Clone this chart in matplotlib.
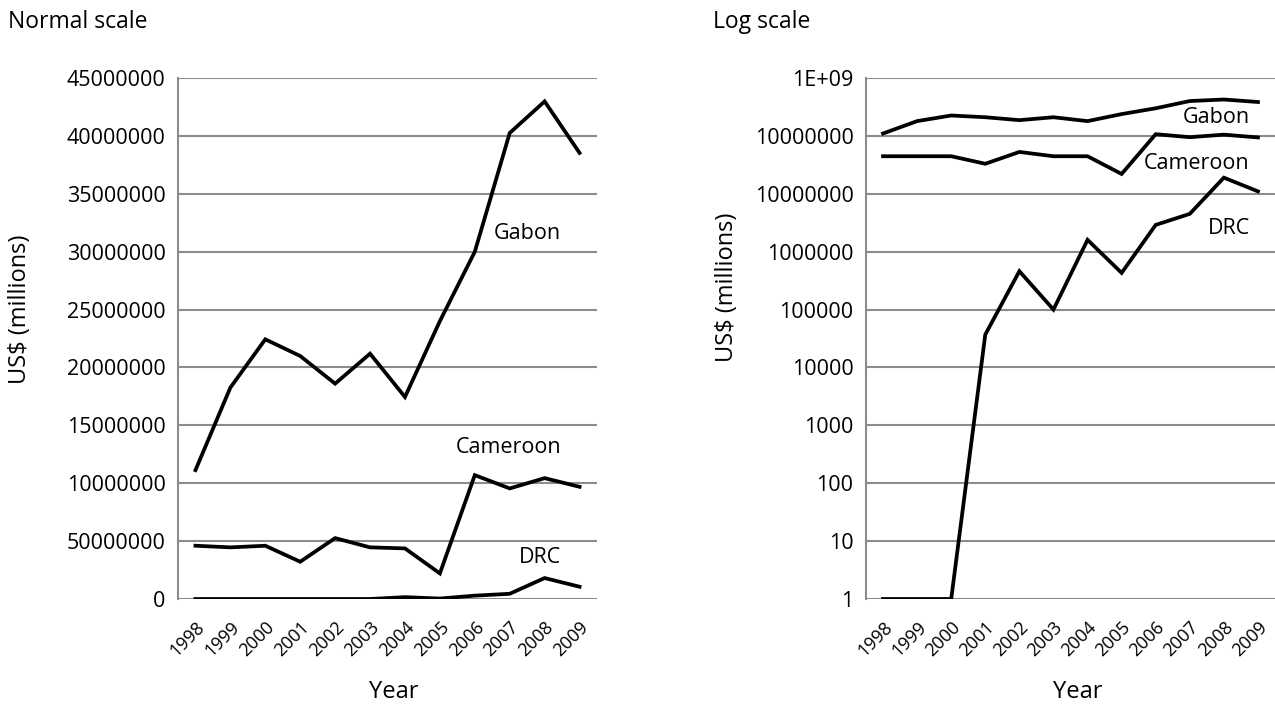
import matplotlib
matplotlib.use("Agg")
import matplotlib.pyplot as plt
import numpy as np

plt.rcParams['font.family'] = ['Open Sans', 'DejaVu Sans']

years = ["1998", "1999", "2000", "2001", "2002", "2003", "2004", "2005", "2006", "2007", "2008", "2009"]

# Normal scale panel values
gabon = [11130000, 18260000, 22430000, 20990000, 18600000, 21190000, 17450000, 24000000, 29990000, 40250000, 42980000, 38530000]
cameroon = [4600000, 4460000, 4600000, 3220000, 5260000, 4460000, 4370000, 2210000, 10700000, 9550000, 10440000, 9690000]
drc = [0, 0, 0, 0, 0, 0, 160000, 40000, 290000, 450000, 1810000, 1060000]

# Log scale panel values
gabon_log = [1.1e8, 1.8e8, 2.25e8, 2.1e8, 1.87e8, 2.1e8, 1.8e8, 2.38e8, 3.0e8, 4.0e8, 4.25e8, 3.85e8]
cameroon_log = [4.45e7, 4.45e7, 4.45e7, 3.3e7, 5.28e7, 4.45e7, 4.45e7, 2.2e7, 1.07e8, 9.5e7, 1.05e8, 9.4e7]
drc_log = [1, 1, 1, 3.7e4, 4.6e5, 1.0e5, 1.6e6, 4.3e5, 2.9e6, 4.5e6, 1.9e7, 1.1e7]

normal_ticks = [0, 5000000, 10000000, 15000000, 20000000, 25000000, 30000000, 35000000, 40000000, 45000000]
normal_ticklabels = ["0", "50000000", "10000000", "15000000", "20000000", "25000000", "30000000", "35000000", "40000000", "45000000"]
log_ticks = [1, 10, 100, 1000, 10000, 100000, 1000000, 10000000, 100000000, 1000000000]
log_ticklabels = ["1", "10", "100", "1000", "10000", "100000", "1000000", "10000000", "10000000", "1E+09"]

W, H = 1275, 705
fig = plt.figure(figsize=(W / 100, H / 100), dpi=100)

grid_c = '#8c8c8c'
lw = 2.7
tfs = 15.5
lab_fs = 15.5


def style(ax, ax_left_px, ax_w_px, ylab_x_px, ylab_y_px, year_x_px):
    ax.set_xlim(-0.5, len(years) - 0.5)
    ax.set_xticks(range(len(years)))
    ax.set_xticklabels(years, rotation=45, ha='right', rotation_mode='anchor', fontsize=13)
    for s in ['top', 'right', 'bottom']:
        ax.spines[s].set_visible(False)
    ax.spines['left'].set_color(grid_c)
    ax.spines['left'].set_linewidth(1.5)
    ax.yaxis.grid(True, color=grid_c, linewidth=1.5)
    ax.set_axisbelow(True)
    ax.tick_params(axis='x', length=0, pad=14)
    ax.tick_params(axis='y', length=0, pad=9, labelsize=tfs)
    ax.set_xlabel("Year", fontsize=17)
    ax.set_ylabel("US$ (millions)", fontsize=17)
    ax.yaxis.set_label_coords((ylab_x_px - ax_left_px) / ax_w_px, (599 - ylab_y_px) / 521)
    ax.xaxis.set_label_coords((year_x_px - ax_left_px) / ax_w_px, (599 - 680) / 521)


x = np.arange(len(years))

ax1 = fig.add_axes([178 / W, 1 - 599 / H, 419 / W, 521 / H])
ax1.plot(x, gabon, color='black', lw=lw, solid_joinstyle='miter')
ax1.plot(x, cameroon, color='black', lw=lw, solid_joinstyle='miter')
ax1.plot(x, drc, color='black', lw=lw, solid_joinstyle='miter')
ax1.set_ylim(0, 45000000)
ax1.set_yticks(normal_ticks)
ax1.set_yticklabels(normal_ticklabels)
style(ax1, 178, 419, 32, 309, 394)
ax1.text(10.47, 31600000, "Gabon", ha='right', va='center', fontsize=lab_fs)
ax1.text(10.47, 13100000, "Cameroon", ha='right', va='center', fontsize=lab_fs)
ax1.text(10.47, 3600000, "DRC", ha='right', va='center', fontsize=lab_fs)

ax2 = fig.add_axes([866 / W, 1 - 599 / H, 409 / W, 521 / H])
ax2.plot(x, gabon_log, color='black', lw=lw, solid_joinstyle='miter')
ax2.plot(x, cameroon_log, color='black', lw=lw, solid_joinstyle='miter')
ax2.plot(x, drc_log, color='black', lw=lw, solid_joinstyle='miter')
ax2.set_yscale('log')
ax2.set_ylim(1, 1e9)
ax2.set_yticks(log_ticks)
ax2.set_yticklabels(log_ticklabels)
ax2.yaxis.set_minor_locator(matplotlib.ticker.NullLocator())
style(ax2, 866, 409, 739, 287, 1078)
ax2.text(10.76, 2.1e8, "Gabon", ha='right', va='center', fontsize=lab_fs)
ax2.text(10.76, 3.4e7, "Cameroon", ha='right', va='center', fontsize=lab_fs)
ax2.text(10.76, 2.55e6, "DRC", ha='right', va='center', fontsize=lab_fs)

fig.text(8 / W, 1 - 28 / H, "Normal scale", ha='left', va='baseline', fontsize=16.5)
fig.text(713 / W, 1 - 28 / H, "Log scale", ha='left', va='baseline', fontsize=16.5)

fig.savefig("out.png", dpi=100)
